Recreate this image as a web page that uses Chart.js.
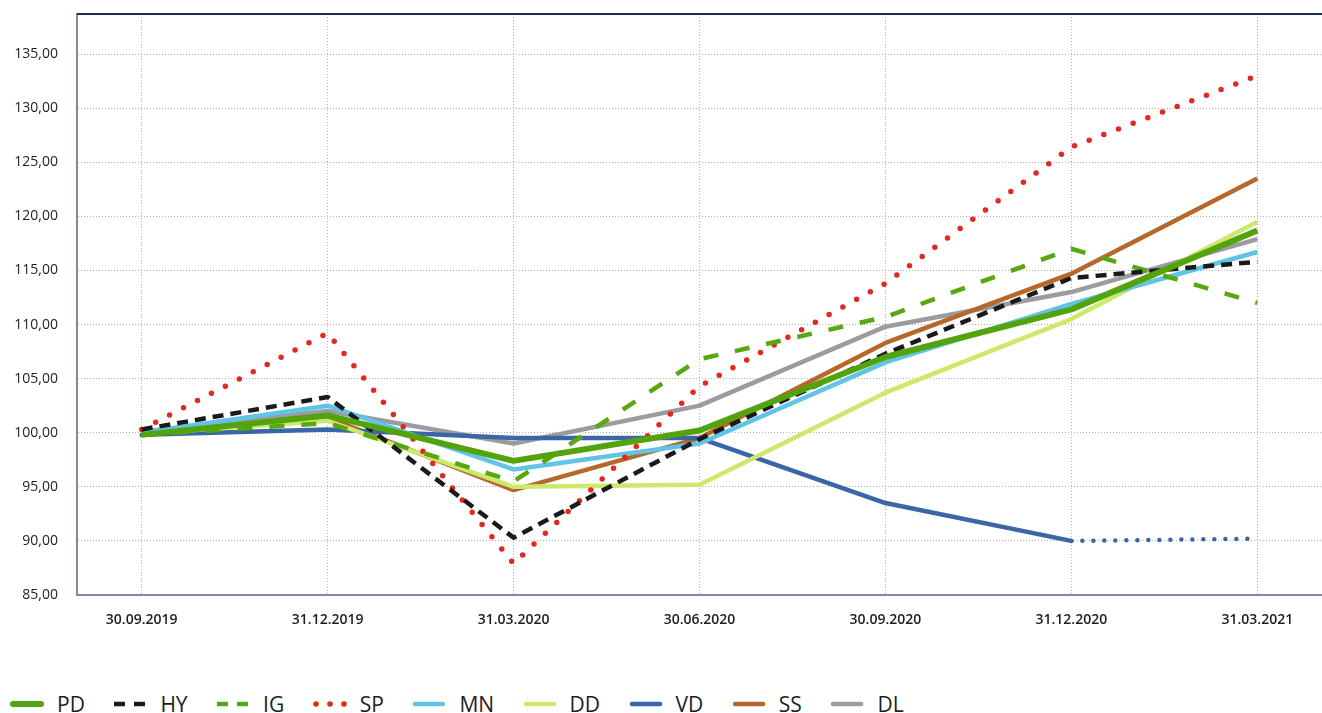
<!DOCTYPE html>
<html>
<head>
<meta charset="utf-8">
<script src="https://cdn.jsdelivr.net/npm/chart.js@4.4.1/dist/chart.umd.min.js"></script>
<style>
  body { margin: 0; background: #fff; font-family: "Open Sans", sans-serif; }
  #wrap { position: relative; width: 1322px; height: 713px; overflow: hidden; }
  #box { position: absolute; left: 0; top: 0; width: 1322px; height: 680px; }
  #legend { position: absolute; left: 10px; top: 692px; display: flex; align-items: center; height: 24px; }
  .item { display: flex; align-items: center; margin-right: 28.5px; }
  .item svg { margin-right: 13px; }
  .item span { font-size: 21px; color: #1e1e1e; line-height: 24px; }
</style>
</head>
<body>
<div id="wrap">
  <div id="box"><canvas id="chart"></canvas></div>
  <div id="legend"></div>
</div>
<script>
// quarter-end dates (x axis)
const dates = ["30.09.2019", "31.12.2019", "31.03.2020", "30.06.2020", "30.09.2020", "31.12.2020", "31.03.2021"];
const yTicks = [85, 90, 95, 100, 105, 110, 115, 120, 125, 130, 135];

// index values per series
const pd = [99.8, 101.6, 97.4, 100.2, 107.0, 111.4, 118.7];
const hy = [100.3, 103.3, 90.3, 99.4, 107.3, 114.3, 115.8];
const ig = [99.8, 100.9, 95.5, 106.8, 110.7, 117.0, 112.0];
const sp = [100.3, 109.2, 87.9, 104.3, 113.8, 126.4, 133.0];
const mn = [100.0, 102.5, 96.6, 99.0, 106.5, 111.9, 116.7];
const dd = [99.9, 101.1, 95.0, 95.2, 103.7, 110.5, 119.5];
const vd = [99.8, 100.3, 99.5, 99.5, 93.5, 90.0, 90.2];
const ss = [99.9, 101.4, 94.7, 99.5, 108.3, 114.7, 123.5];
const dl = [100.1, 102.0, 99.0, 102.5, 109.8, 113.0, 117.9];

const toPoints = (arr) => arr.map((v, i) => ({ x: i, y: v }));

// series definitions (legend order)
const series = [
  { label: "PD", data: pd, color: "#52a30c", width: 6, kind: "solid" },
  { label: "HY", data: hy, color: "#1a1a1a", width: 4.5, kind: "dash", dash: [11, 7] },
  { label: "IG", data: ig, color: "#56a80e", width: 4.5, kind: "dash", dash: [15, 17] },
  { label: "SP", data: sp, color: "#e2281f", width: 5.5, kind: "dot", dash: [0, 15.7] },
  { label: "MN", data: mn, color: "#5fc4e6", width: 4.5, kind: "solid" },
  { label: "DD", data: dd, color: "#cde96c", width: 4.5, kind: "solid" },
  { label: "VD", data: vd, color: "#3a66a8", width: 4.5, kind: "solid", dotFrom: 5 },
  { label: "SS", data: ss, color: "#b5682a", width: 4.5, kind: "solid" },
  { label: "DL", data: dl, color: "#9b9ba0", width: 4.5, kind: "solid" }
];

const datasets = series.map((s) => {
  const ds = {
    label: s.label,
    data: toPoints(s.data),
    borderColor: s.color,
    backgroundColor: s.color,
    borderWidth: s.width,
    pointRadius: 0,
    tension: 0,
    borderCapStyle: s.kind === "dot" ? "round" : "butt",
    borderJoinStyle: "round",
    borderDash: s.dash || []
  };
  if (s.dotFrom !== undefined) {
    // last segment of VD is dotted
    ds.borderCapStyle = "round";
    ds.segment = {
      borderDash: (ctx) => (ctx.p0DataIndex >= s.dotFrom ? [0, 11] : undefined)
    };
  }
  return ds;
});

// dark line along the top of the plot area
const topBorder = {
  id: "topBorder",
  afterDraw(chart) {
    const { ctx, chartArea } = chart;
    ctx.save();
    ctx.strokeStyle = "#1d2b57";
    ctx.lineWidth = 2;
    ctx.beginPath();
    ctx.moveTo(chartArea.left, chartArea.top);
    ctx.lineTo(chartArea.right, chartArea.top);
    ctx.stroke();
    ctx.restore();
  }
};

// no extra room for half labels at the ends
const noPad = (scale) => {
  scale.paddingTop = 0;
  scale.paddingBottom = 0;
  scale.paddingLeft = 0;
  scale.paddingRight = 0;
};

const ctx = document.getElementById("chart").getContext("2d");
new Chart(ctx, {
  type: "line",
  data: { datasets },
  options: {
    responsive: true,
    maintainAspectRatio: false,
    animation: false,
    layout: { padding: { top: 14, right: 0, left: 0, bottom: 0 } },
    plugins: { legend: { display: false }, tooltip: { enabled: false } },
    scales: {
      x: {
        type: "linear",
        min: -0.348,
        max: 6.348,
        afterBuildTicks: (scale) => {
          scale.ticks = dates.map((d, i) => ({ value: i }));
        },
        afterFit: (scale) => { scale.height = 85; noPad(scale); },
        ticks: {
          autoSkip: false,
          maxRotation: 0,
          padding: 17,
          color: "#1e1e1e",
          font: { family: "Open Sans", size: 14, weight: "600" },
          callback: (v) => dates[v]
        },
        grid: { color: "#b4b4b4", drawTicks: false, lineWidth: 1 },
        border: { display: true, color: "#7f88a6", width: 2, dash: [1, 2] }
      },
      y: {
        min: 85,
        max: 138.7,
        afterBuildTicks: (scale) => {
          scale.ticks = yTicks.map((v) => ({ value: v }));
        },
        afterFit: (scale) => { scale.width = 77; noPad(scale); },
        ticks: {
          padding: 19,
          color: "#1e1e1e",
          font: { family: "Open Sans", size: 14 },
          callback: (v) => v.toFixed(2).replace(".", ",")
        },
        grid: { color: "#b4b4b4", drawTicks: false, lineWidth: 1 },
        border: { display: true, color: "#7f88a6", width: 2, dash: [1, 2] }
      }
    }
  },
  plugins: [topBorder]
});

// html legend with small line samples
const legend = document.getElementById("legend");
series.forEach((s) => {
  let mark = "";
  if (s.kind === "dot") {
    mark = [3, 17, 31].map((cx) => `<circle cx="${cx}" cy="5" r="2.8" fill="${s.color}"/>`).join("");
  } else if (s.kind === "dash") {
    mark = `<line x1="1" y1="5" x2="32" y2="5" stroke="${s.color}" stroke-width="4.5" stroke-dasharray="11 9"/>`;
  } else {
    mark = `<line x1="3" y1="5" x2="31" y2="5" stroke="${s.color}" stroke-width="${s.label === "PD" ? 6 : 4.5}" stroke-linecap="round"/>`;
  }
  const item = document.createElement("div");
  item.className = "item";
  item.innerHTML = `<svg width="34" height="10">${mark}</svg><span>${s.label}</span>`;
  legend.appendChild(item);
});
</script>
</body>
</html>
